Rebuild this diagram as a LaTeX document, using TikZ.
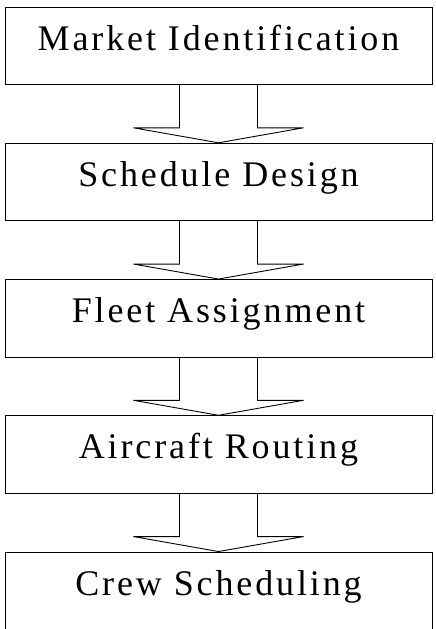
\documentclass[tikz,border=0pt]{standalone}
\usepackage{fontspec}
\setmainfont{Liberation Serif}
\newfontfamily\stagefont[LetterSpace=8]{Liberation Serif}
\begin{document}
\begin{tikzpicture}[x=1pt,y=1pt,
		stage/.style={draw, line width=0.9pt, rectangle, inner sep=0pt,
			minimum width=427pt, minimum height=77.5pt,
			text height=30pt, text depth=21.5pt,
			font=\stagefont\fontsize{36}{40}\selectfont},
		flow/.style={draw, line width=0.9pt, line join=miter}]
		\useasboundingbox (0,0) rectangle (436,-629);

		\node[stage] (market) at (218.5,-45.75) {Market Identification};
		\node[stage] (schedule) at (218.5,-182) {Schedule Design};
		\node[stage] (fleet) at (218.5,-318.25) {Fleet Assignment};
		\node[stage] (routing) at (218.5,-454.5) {Aircraft Routing};
		\node[stage] (crew) at (218.5,-590.75) {Crew Scheduling};

		% block arrows between the stages
		\draw[flow] ([xshift=-39pt]market.south) |- ([xshift=-85pt,yshift=15pt]schedule.north) -- (schedule.north) -- ([xshift=85pt,yshift=15pt]schedule.north) -| ([xshift=39pt]market.south);
		\draw[flow] ([xshift=-39pt]schedule.south) |- ([xshift=-85pt,yshift=15pt]fleet.north) -- (fleet.north) -- ([xshift=85pt,yshift=15pt]fleet.north) -| ([xshift=39pt]schedule.south);
		\draw[flow] ([xshift=-39pt]fleet.south) |- ([xshift=-85pt,yshift=15pt]routing.north) -- (routing.north) -- ([xshift=85pt,yshift=15pt]routing.north) -| ([xshift=39pt]fleet.south);
		\draw[flow] ([xshift=-39pt]routing.south) |- ([xshift=-85pt,yshift=15pt]crew.north) -- (crew.north) -- ([xshift=85pt,yshift=15pt]crew.north) -| ([xshift=39pt]routing.south);

	\end{tikzpicture}
\end{document}
